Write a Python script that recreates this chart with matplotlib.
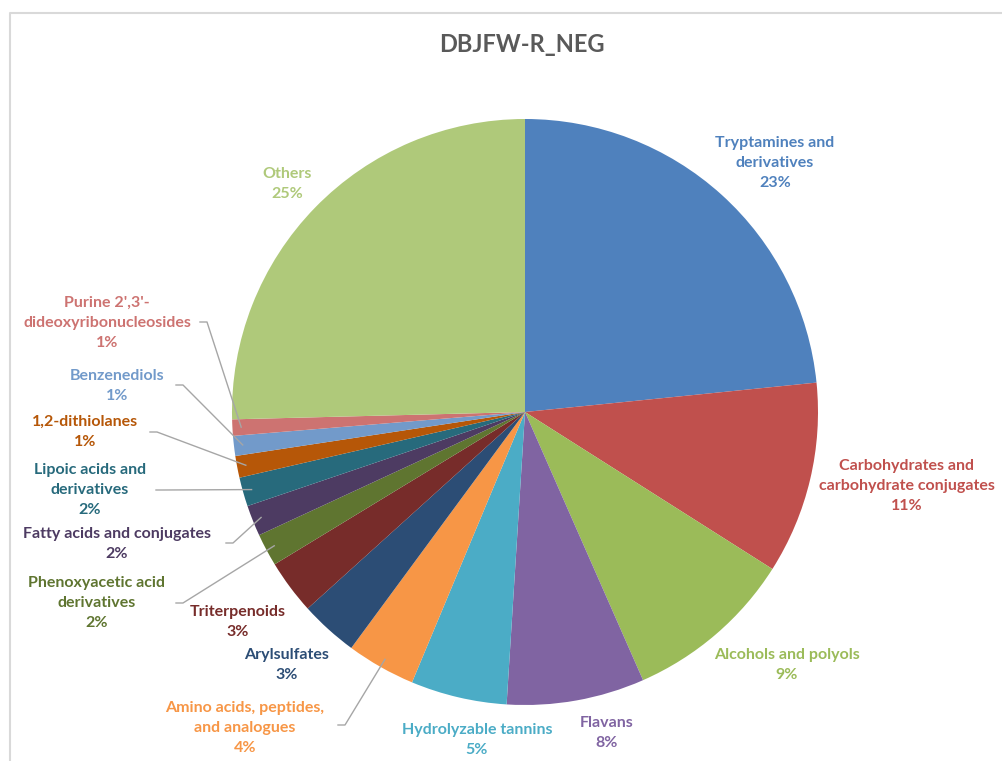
# plot.py — Kreisdiagramm DBJFW-R_NEG (Klassen, negativer Modus)

import numpy as np
import matplotlib

matplotlib.use("Agg")
import matplotlib.pyplot as plt

plt.rcParams["font.family"] = ["Lato", "DejaVu Sans"]

# Daten (im Uhrzeigersinn ab 12 Uhr)
categories = [
    "Tryptamines and\nderivatives",
    "Carbohydrates and\ncarbohydrate conjugates",
    "Alcohols and polyols",
    "Flavans",
    "Hydrolyzable tannins",
    "Amino acids, peptides,\nand analogues",
    "Arylsulfates",
    "Triterpenoids",
    "Phenoxyacetic acid\nderivatives",
    "Fatty acids and conjugates",
    "Lipoic acids and\nderivatives",
    "1,2-dithiolanes",
    "Benzenediols",
    "Purine 2',3'-\ndideoxyribonucleosides",
    "Others",
]
shares = [23.4, 10.6, 9.4, 7.6, 5.3, 3.8, 3.2, 3.0, 1.8, 1.7, 1.6, 1.2, 1.1, 0.9, 25.4]
colors = ["#4F81BD", "#C0504D", "#9BBB59", "#8064A2", "#4BACC6", "#F79646",
          "#2C4D75", "#772C2A", "#5F7530", "#4D3B62", "#276A7C", "#B65708",
          "#729ACA", "#CD7371", "#AFC97A"]

# Beschriftungspositionen in Pixeln (x, y von oben)
label_pos = [(775, 163), (907, 486), (787, 665), (607, 733), (477, 740),
             (245, 728), (287, 665), (238, 622), (97, 603), (117, 544),
             (90, 490), (85, 432), (117, 386), (107, 323), (287, 184)]
# Führungslinien: Startpunkt neben dem Text
leader_start = {5: (338, 725), 8: (176, 603), 9: (226, 543), 10: (156, 490),
                11: (150, 432), 12: (176, 385), 13: (200, 322)}

W, H = 1003, 761
CX, CY, R = 525, 412, 293

fig = plt.figure(figsize=(W / 100, H / 100), dpi=100)
ax = fig.add_axes([0, 0, 1, 1])

# Rahmen
ax.plot([10, 10, W], [0, H - 13, H - 13], color="#D9D9D9", lw=1.5)

wedges, _ = ax.pie(shares, colors=colors, startangle=90, counterclock=False,
                   center=(CX, H - CY), radius=R, frame=True,
                   wedgeprops=dict(linewidth=0))
ax.set_xlim(0, W)
ax.set_ylim(0, H)
ax.set_aspect("equal")
ax.axis("off")

total = sum(shares)
for i, (w, name) in enumerate(zip(wedges, categories)):
    pct = shares[i] / total * 100
    x, y = label_pos[i]
    ax.text(x, H - y, f"{name}\n{pct:.0f}%", ha="center", va="center",
            fontsize=11.5, fontweight="bold", color=colors[i], linespacing=1.55)
    if i in leader_start:
        mid = np.deg2rad((w.theta1 + w.theta2) / 2)
        px = CX + R * 0.97 * np.cos(mid)
        py = (H - CY) + R * 0.97 * np.sin(mid)
        sx, sy = leader_start[i]
        ax.plot([sx, sx + 7, px], [H - sy, H - sy, py], color="#A6A6A6", lw=1)

ax.text(522, H - 45, "DBJFW-R_NEG", ha="center", va="center",
        fontsize=17, fontweight="bold", color="#595959")

fig.savefig("out.png", dpi=100)
